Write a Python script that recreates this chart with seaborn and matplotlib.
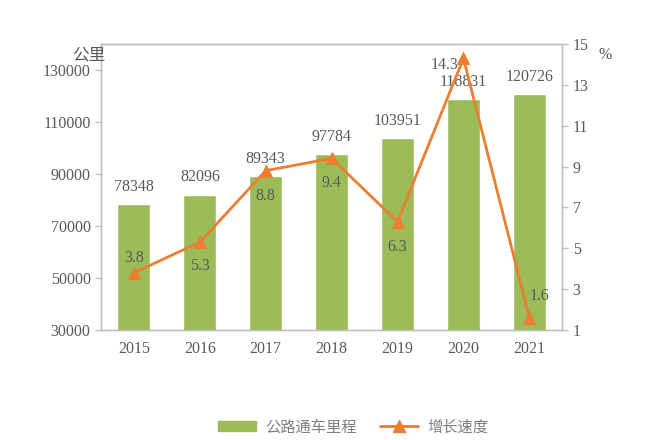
import pandas as pd
import matplotlib.pyplot as plt
import seaborn as sns
from matplotlib.patches import Patch
from matplotlib.lines import Line2D

years = ["2015", "2016", "2017", "2018", "2019", "2020", "2021"]
mileage = [78348, 82096, 89343, 97784, 103951, 118831, 120726]
growth = [3.8, 5.3, 8.8, 9.4, 6.3, 14.3, 1.6]

df = pd.DataFrame({"year": years, "mileage": mileage, "growth": growth})

sns.set_style("white")
plt.rcParams['font.family'] = ['Liberation Serif', 'Noto Sans CJK SC', 'DejaVu Sans']

BAR = "#9BBB59"
LINE = "#ED7D31"
TXT = "#595959"
GRID = "#BFBFBF"
FS = 11.5

fig = plt.figure(figsize=(6.6, 4.4), dpi=100)
ax = fig.add_axes([0.153, 0.25, 0.699, 0.65])

sns.barplot(data=df, x="year", y="mileage", color=BAR, width=0.5, saturation=1, ax=ax)
ax.set_ylim(30000, 140000)
ax.set_yticks(range(30000, 130001, 20000))
ax.set_xlim(-0.5, 6.5)
ax.set_xlabel("")
ax.set_ylabel("")
for i, v in enumerate(mileage):
    ax.text(i, v + 3500, str(v), ha="center", va="bottom", fontsize=FS, color=TXT)

ax2 = ax.twinx()
sns.lineplot(data=df, x="year", y="growth", color=LINE, marker="^", markersize=9,
             markeredgecolor=LINE, linewidth=2, ax=ax2, sort=False)
ax2.set_ylim(1, 15)
ax2.set_yticks(range(1, 16, 2))
ax2.set_ylabel("")
ax2.set_xlim(-0.5, 6.5)

# growth labels: offsets in points relative to each marker
offsets = [(0, 11), (0, -17), (0, -18), (0, -18), (0, -18), (-14, -5), (7, 16)]
for i, (v, off) in enumerate(zip(growth, offsets)):
    ax2.annotate(f"{v}", (i, v), xytext=off, textcoords="offset points",
                 ha="center", va="center", fontsize=FS, color=TXT)

for a in (ax, ax2):
    for s in a.spines.values():
        s.set_color(GRID)
        s.set_linewidth(1)
    a.tick_params(axis="both", colors=TXT, labelsize=FS, length=4, width=1)
    a.tick_params(axis="y", color=GRID)
ax.tick_params(axis="x", length=0, pad=8)

fig.text(0.16, 0.875, "公里", ha="right", va="center", fontsize=12, color=TXT,
         family=['Noto Sans CJK SC'])
fig.text(0.917, 0.875, "%", ha="center", va="center", fontsize=FS, color=TXT)

handles = [Patch(color=BAR, label="公路通车里程"),
           Line2D([0], [0], color=LINE, lw=2, marker="^", markersize=8, label="增长速度")]
leg = fig.legend(handles=handles, loc="center", bbox_to_anchor=(0.535, 0.03), ncol=2,
                 frameon=False, handlelength=2.5, handletextpad=0.6, columnspacing=1.5,
                 prop={'family': ['Noto Sans CJK SC'], 'size': 11})
for t in leg.get_texts():
    t.set_color("#7F7F7F")

fig.savefig("out.png", dpi=100)
